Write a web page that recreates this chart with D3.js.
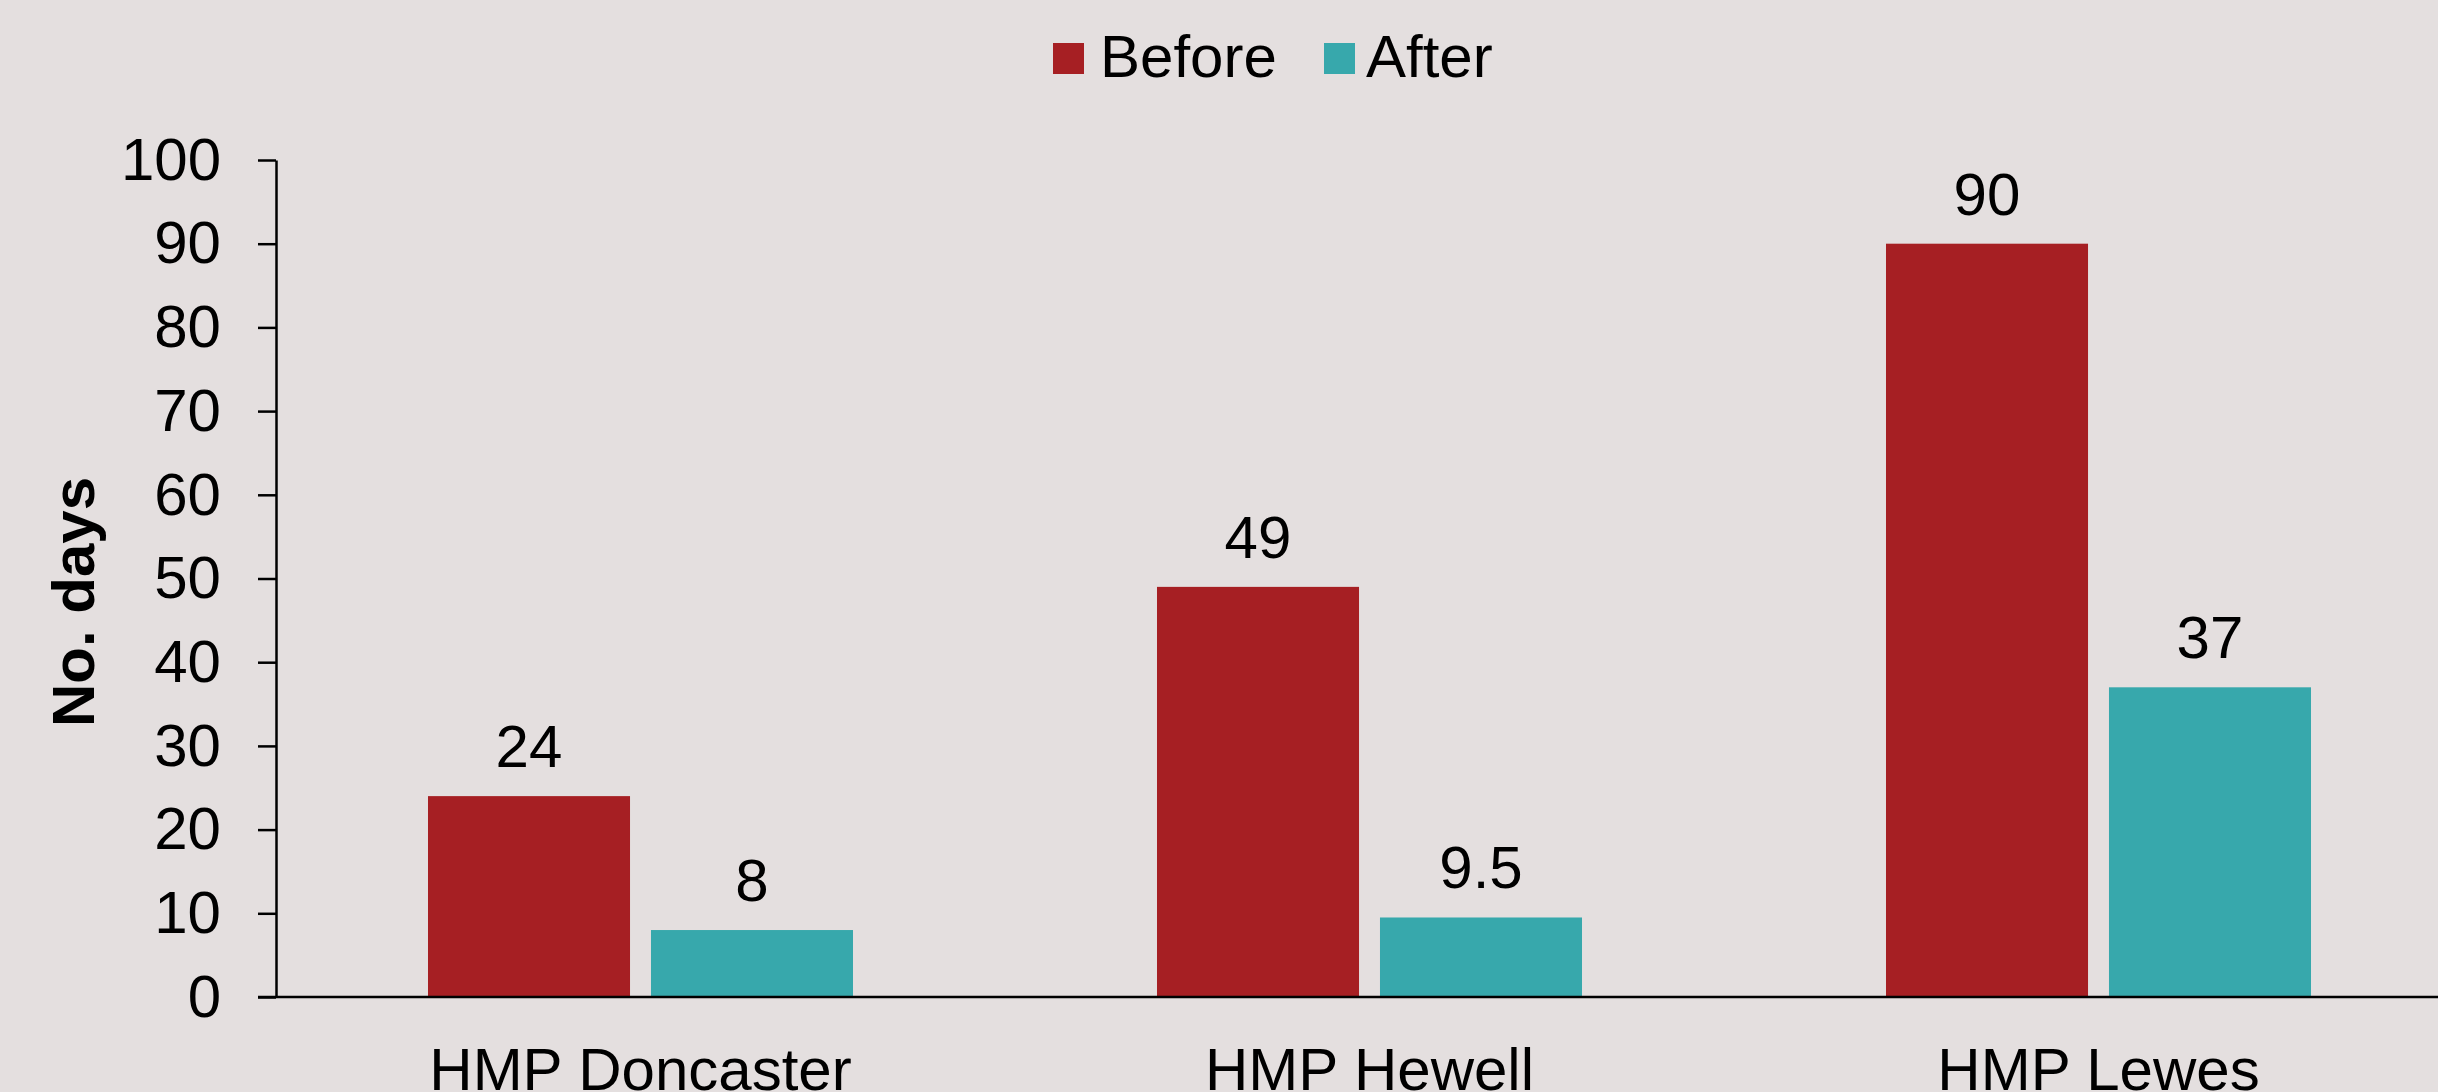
<!DOCTYPE html>
<html>
<head>
<meta charset="utf-8">
<script src="https://cdn.jsdelivr.net/npm/d3@7"></script>
<style>
  html, body { margin: 0; padding: 0; background: #E4DFDF; }
  svg { display: block; }
  text { font-family: "Liberation Sans", Arial, sans-serif; fill: #000; }
</style>
</head>
<body>
<svg id="chart" width="2438" height="1092"></svg>
<script>
const categories = ["HMP Doncaster", "HMP Hewell", "HMP Lewes"];
const seriesNames = ["Before", "After"];
const beforeValues = [24, 49, 90];
const afterValues = [8, 9.5, 37];
const yTicks = [0, 10, 20, 30, 40, 50, 60, 70, 80, 90, 100];
const colors = ["#A61F23", "#37A8AC"];

const W = 2438, H = 1092;
const svg = d3.select("#chart");
svg.append("rect").attr("width", W).attr("height", H).attr("fill", "#E4DFDF");

const plotLeft = 276, plotRight = 2463, plotTop = 160, plotBottom = 997;

const x0 = d3.scaleBand().domain(categories).range([plotLeft, plotRight])
  .paddingInner(0.417).paddingOuter(0.2085);
const x1 = d3.scaleBand().domain(seriesNames).range([0, x0.bandwidth()])
  .paddingInner(0.094);
const y = d3.scaleLinear().domain([0, 100]).range([plotBottom, plotTop]);
const color = d3.scaleOrdinal().domain(seriesNames).range(colors);

const rows = categories.map((c, i) => ({
  cat: c,
  vals: [
    { key: "Before", value: beforeValues[i] },
    { key: "After", value: afterValues[i] }
  ]
}));

// bars
const groups = svg.append("g").selectAll("g").data(rows).join("g")
  .attr("transform", d => `translate(${x0(d.cat)},0)`);
groups.selectAll("rect").data(d => d.vals).join("rect")
  .attr("x", d => x1(d.key))
  .attr("y", d => y(d.value))
  .attr("width", x1.bandwidth())
  .attr("height", d => y(0) - y(d.value))
  .attr("fill", d => color(d.key));
groups.selectAll("text.val").data(d => d.vals).join("text")
  .attr("class", "val")
  .attr("x", d => x1(d.key) + x1.bandwidth() / 2)
  .attr("y", d => y(d.value) - 29)
  .attr("text-anchor", "middle")
  .attr("font-size", 60)
  .text(d => d.value);

// y axis
const yAxis = d3.axisLeft(y).tickValues(yTicks).tickSize(18).tickSizeOuter(0).tickPadding(37);
const gy = svg.append("g").attr("transform", `translate(${plotLeft},0)`).call(yAxis);
gy.selectAll("text").attr("font-size", 60).attr("font-family", "Liberation Sans, Arial, sans-serif").attr("fill", "#000");
gy.selectAll("line").attr("stroke", "#000").attr("stroke-width", 2.5);
gy.select(".domain").attr("stroke", "#000").attr("stroke-width", 2.5);

// x axis
const xAxis = d3.axisBottom(x0).tickSize(0).tickPadding(50);
const gx = svg.append("g").attr("transform", `translate(0,${plotBottom})`).call(xAxis);
gx.select(".domain").attr("d", `M${plotLeft - 18},0H${W}`).attr("stroke", "#000").attr("stroke-width", 2.5);
gx.selectAll("text").attr("font-size", 60).attr("font-family", "Liberation Sans, Arial, sans-serif").attr("fill", "#000");

// y title
svg.append("text")
  .attr("transform", `translate(94,602) rotate(-90)`)
  .attr("text-anchor", "middle")
  .attr("font-size", 60)
  .attr("font-weight", "bold")
  .text("No. days");

// legend
const legendItems = [
  { key: "Before", sx: 1053, tx: 1100 },
  { key: "After", sx: 1324, tx: 1366 }
];
const lg = svg.append("g");
lg.selectAll("rect").data(legendItems).join("rect")
  .attr("x", d => d.sx).attr("y", 43).attr("width", 31).attr("height", 31)
  .attr("fill", d => color(d.key));
lg.selectAll("text").data(legendItems).join("text")
  .attr("x", d => d.tx).attr("y", 77)
  .attr("font-size", 60)
  .text(d => d.key);
</script>
</body>
</html>
